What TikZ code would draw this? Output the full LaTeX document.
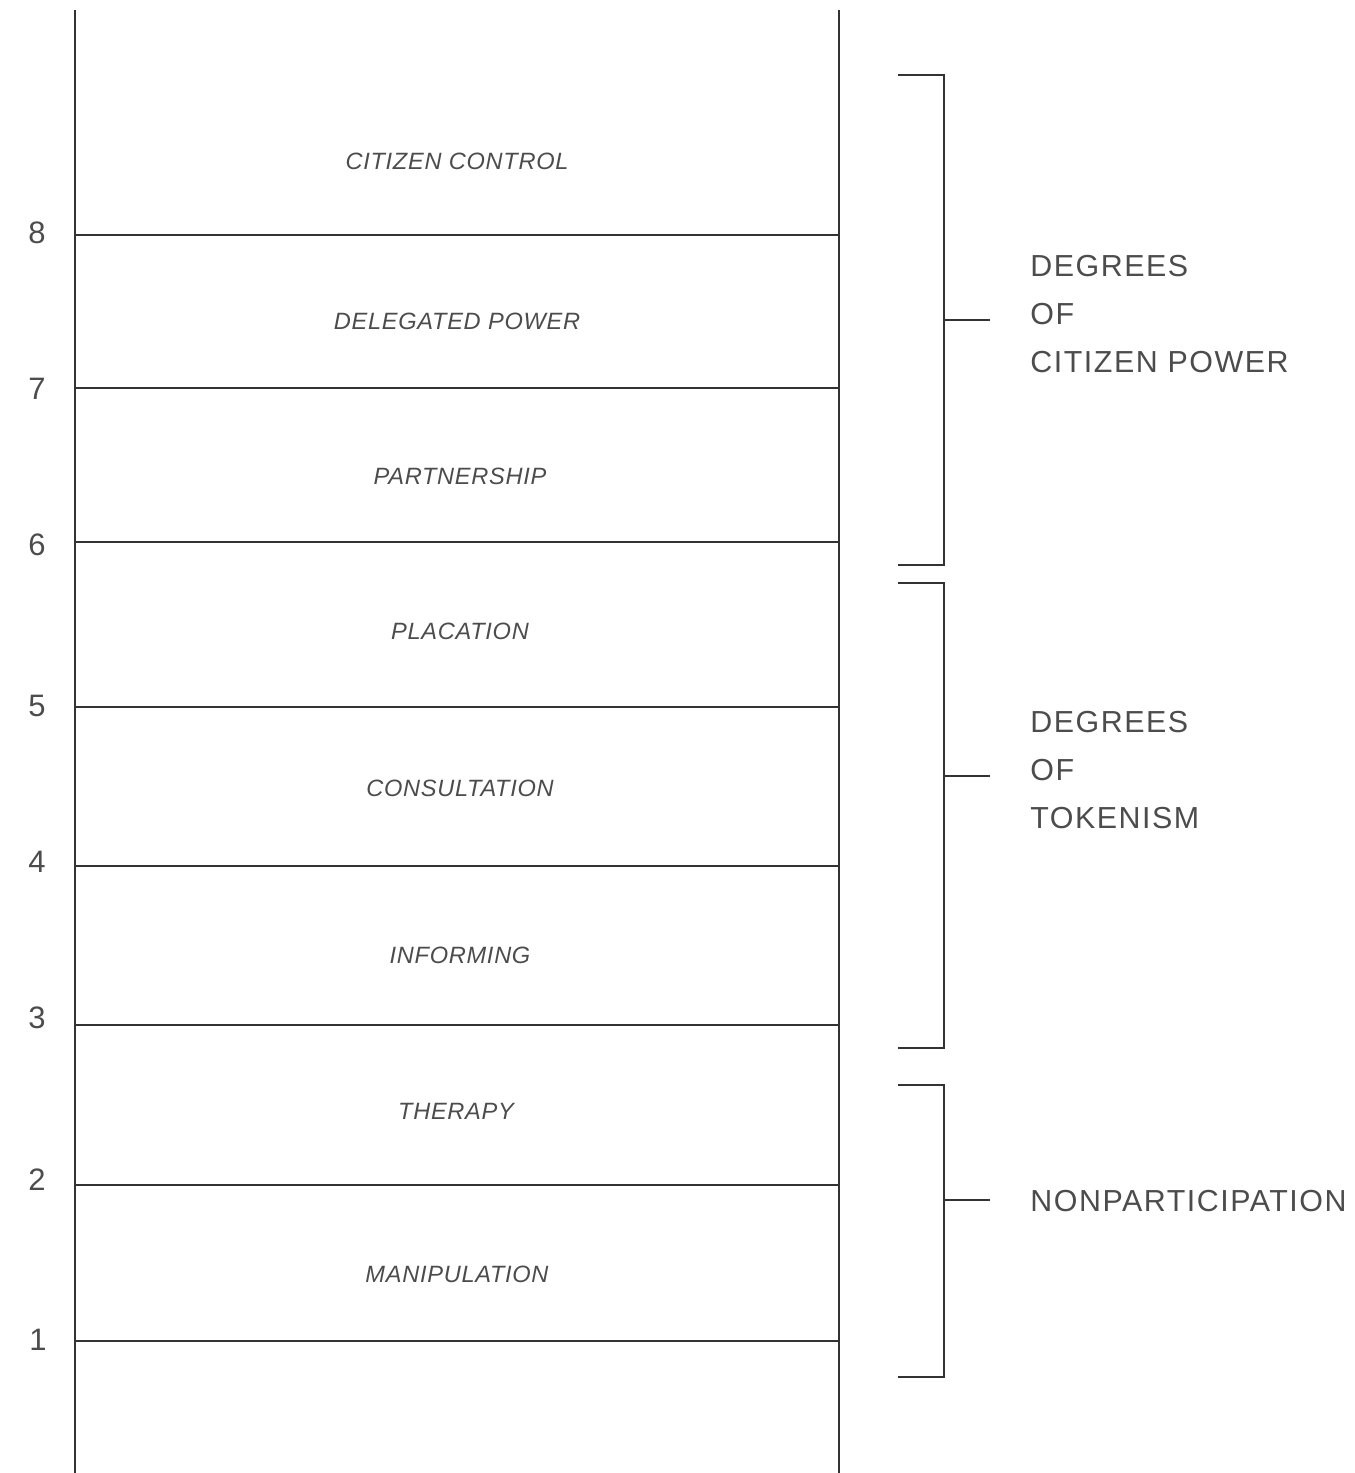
\documentclass[tikz,border=0pt]{standalone}
\usepackage{fontspec}
\setmainfont{Liberation Sans}
\begin{document}
\begin{tikzpicture}[x=0.5pt,y=-0.5pt,
  rail/.style={line width=1pt,draw=black!80},
  rung/.style={line width=1pt,draw=black!80},
  brk/.style={line width=1pt,draw=black!80},
  rungnum/.style={text=black!70,font=\fontsize{15.5}{18}\selectfont,anchor=center,inner sep=0pt},
  steplabel/.style={text=black!70,font=\fontsize{11.8}{14}\selectfont\itshape\addfontfeature{LetterSpace=3},anchor=center,inner sep=0pt},
  grouplabel/.style={text=black!70,font=\fontsize{15.2}{24}\selectfont\addfontfeature{LetterSpace=5},anchor=west,inner sep=0pt,align=left}]
\useasboundingbox (0,0) rectangle (1355,1473);
% rails
\coordinate (lt) at (75,10); \coordinate (lb) at (75,1473);
\coordinate (rt) at (839,10); \coordinate (rb) at (839,1473);
\draw[rail] (lt) -- (lb);
\draw[rail] (rt) -- (rb);
% rungs
\foreach \n/\y in {8/235,7/388,6/542,5/707,4/866,3/1025,2/1185,1/1341}{
  \coordinate (L\n) at (75,\y); \coordinate (R\n) at (839,\y);
  \draw[rung] (L\n) -- (R\n);
}
% numbers
\node[rungnum] (n8) at (37,233) {8};
\node[rungnum] (n7) at (37,389) {7};
\node[rungnum] (n6) at (37,545) {6};
\node[rungnum] (n5) at (37,706) {5};
\node[rungnum] (n4) at (37,862) {4};
\node[rungnum] (n3) at (37,1018) {3};
\node[rungnum] (n2) at (37,1180) {2};
\node[rungnum] (n1) at (38,1340) {1};
% step labels
\node[steplabel] (s8) at (457,161) {CITIZEN CONTROL};
\node[steplabel] (s7) at (457,321) {DELEGATED POWER};
\node[steplabel] (s6) at (460,476) {PARTNERSHIP};
\node[steplabel] (s5) at (460,631) {PLACATION};
\node[steplabel] (s4) at (460,788) {CONSULTATION};
\node[steplabel] (s3) at (460,955) {INFORMING};
\node[steplabel] (s2) at (456,1111) {THERAPY};
\node[steplabel] (s1) at (457,1274) {MANIPULATION};
% brackets
\coordinate (b1a) at (898,75);  \coordinate (b1b) at (898,565); \coordinate (b1m) at (944,320); \coordinate (b1t) at (990,320);
\coordinate (b2a) at (898,583); \coordinate (b2b) at (898,1048); \coordinate (b2m) at (944,776); \coordinate (b2t) at (990,776);
\coordinate (b3a) at (898,1085); \coordinate (b3b) at (898,1377); \coordinate (b3m) at (944,1200); \coordinate (b3t) at (990,1200);
\draw[brk] (b1a) -| (b1m) |- (b1b);
\draw[brk] (b1m) -- (b1t);
\draw[brk] (b2a) -| (b2m) |- (b2b);
\draw[brk] (b2m) -- (b2t);
\draw[brk] (b3a) -| (b3m) |- (b3b);
\draw[brk] (b3m) -- (b3t);
% group labels
\node[grouplabel] (g1a) at (1030,266) {DEGREES};
\node[grouplabel] (g1b) at (1030,314) {OF};
\node[grouplabel] (g1c) at (1030,362) {CITIZEN POWER};
\node[grouplabel] (g2a) at (1030,722) {DEGREES};
\node[grouplabel] (g2b) at (1030,770) {OF};
\node[grouplabel] (g2c) at (1030,818) {TOKENISM};
\node[grouplabel] (g3) at (1030,1201) {NONPARTICIPATION};
\end{tikzpicture}
\end{document}
